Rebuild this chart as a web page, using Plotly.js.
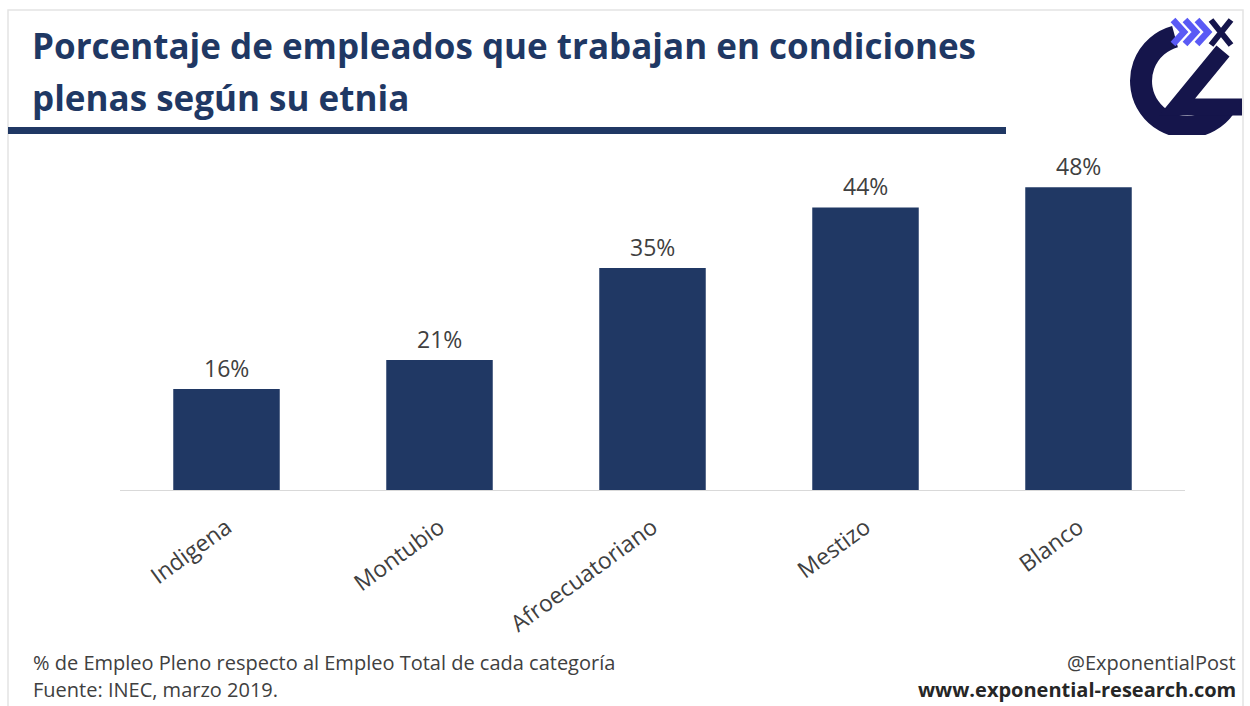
<!DOCTYPE html>
<html>
<head>
<meta charset="utf-8">
<script src="https://cdn.plot.ly/plotly-3.0.1.min.js"></script>
<style>html,body{margin:0;padding:0;background:#fff;}#chart{width:1250px;height:706px;}</style>
</head>
<body>
<div id="chart"></div>
<script>
const categories = ["Indigena", "Montubio", "Afroecuatoriano", "Mestizo", "Blanco"];
const values = [16, 20.6, 35.2, 44.8, 48];
const valueLabels = ["16%", "21%", "35%", "44%", "48%"];

const W = 1250, H = 706;
const M = {l: 120, r: 65, t: 150, b: 216};
const pw = W - M.l - M.r, ph = H - M.t - M.b;
const px = x => (x - M.l) / pw;
const py = y => (H - M.b - y) / ph;

const logoSvg = '<svg xmlns="http://www.w3.org/2000/svg" width="120" height="120" viewBox="0 0 120 120">' +
  '<path d="M50 21.6 A46 46 0 1 0 99.7 92.4" fill="none" stroke="#15154b" stroke-width="22"/>' +
  '<path d="M98 36 L52 92 L117 92" fill="none" stroke="#15154b" stroke-width="17" stroke-linejoin="miter"/>' +
  '<path d="M48 5 L59 17 L48 29 M60 5 L71 17 L60 29 M72 5 L83 17 L72 29" fill="none" stroke="#5a5af5" stroke-width="6.5"/>' +
  '<path d="M86 5 L106 30 M106 5 L86 30" fill="none" stroke="#15154b" stroke-width="6"/>' +
  '</svg>';

const trace = {
  type: 'bar',
  x: categories,
  y: values,
  marker: {color: '#203864'},
  width: 0.5,
  hoverinfo: 'none'
};

const font = 'Open Sans, sans-serif';

const valueAnnotations = categories.map((c, i) => ({
  x: c, y: values[i], xref: 'x', yref: 'y', text: valueLabels[i],
  showarrow: false, yanchor: 'middle', yshift: 21,
  font: {family: font, size: 23, color: '#404040'}
}));

const textAnn = (text, x, y, xanchor, size, color) => ({
  text: text, xref: 'paper', yref: 'paper', x: px(x), y: py(y),
  xanchor: xanchor, yanchor: 'middle', align: xanchor, showarrow: false,
  font: {family: font, size: size, color: color}
});

const layout = {
  width: W, height: H,
  margin: M,
  paper_bgcolor: '#ffffff',
  plot_bgcolor: '#ffffff',
  showlegend: false,
  bargap: 0.5,
  xaxis: {
    tickangle: -36,
    ticklabelstandoff: 14,
    tickfont: {family: font, size: 23, color: '#404040'},
    showline: true, linecolor: '#d9d9d9', linewidth: 1,
    ticks: '', showgrid: false, zeroline: false, fixedrange: true
  },
  yaxis: {
    range: [0, 53.9], visible: false, showgrid: false, zeroline: false, fixedrange: true
  },
  shapes: [
    {type: 'rect', xref: 'paper', yref: 'paper', x0: px(8), x1: px(1243), y0: py(10), y1: py(720),
     line: {color: '#e4e4e4', width: 1.5}, fillcolor: 'rgba(0,0,0,0)', layer: 'below'},
    {type: 'rect', xref: 'paper', yref: 'paper', x0: px(8), x1: px(1006), y0: py(127), y1: py(134),
     line: {width: 0}, fillcolor: '#203864'}
  ],
  images: [
    {source: 'data:image/svg+xml;utf8,' + encodeURIComponent(logoSvg), xref: 'paper', yref: 'paper',
     x: px(1125), y: py(15), sizex: 120 / pw, sizey: 120 / ph, xanchor: 'left', yanchor: 'top', layer: 'above'}
  ],
  annotations: valueAnnotations.concat([
    textAnn('<b>Porcentaje de empleados que trabajan en condiciones</b>', 30, 45, 'left', 35, '#1F3864'),
    textAnn('<b>plenas según su etnia</b>', 30, 97, 'left', 35, '#1F3864'),
    textAnn('% de Empleo Pleno respecto al Empleo Total de cada categoría', 31, 662, 'left', 20, '#404040'),
    textAnn('Fuente: INEC, marzo 2019.', 31, 689, 'left', 20, '#404040'),
    textAnn('@ExponentialPost', 1238, 662, 'right', 20, '#404040'),
    textAnn('<b>www.exponential-research.com</b>', 1238, 689, 'right', 20, '#262626')
  ])
};

Plotly.newPlot('chart', [trace], layout, {displayModeBar: false, staticPlot: true});
</script>
</body>
</html>
